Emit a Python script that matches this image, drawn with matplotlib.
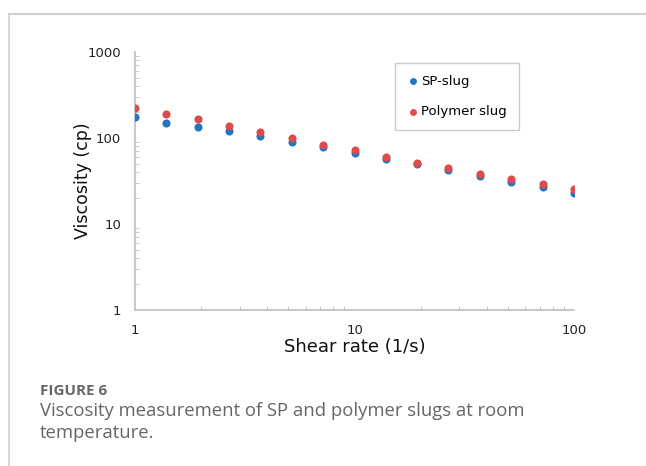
import matplotlib.pyplot as plt
from matplotlib.ticker import LogLocator, NullFormatter, FixedLocator, FixedFormatter
from matplotlib.lines import Line2D

# shear rate (1/s)
shear_rate = [1, 1.39, 1.93, 2.68, 3.73, 5.18, 7.2, 10, 13.9, 19.3, 26.8, 37.3, 51.8, 72, 100]
# viscosity (cp)
sp_slug = [174, 150, 134, 120, 105, 90, 78.5, 67, 57, 50, 42, 35.7, 31.2, 26.8, 23.2]
polymer_slug = [222, 190, 165, 138, 116, 99, 84, 72, 60.5, 51.5, 44.3, 38.4, 33, 28.8, 25.2]

x_ticks = [1, 10, 100]
y_ticks = [1, 10, 100, 1000]

blue = "#1f77c4"
red = "#e04a4a"
grey = "#bfbfbf"

fig = plt.figure(figsize=(6.46, 4.66), dpi=100)

# page frame lines (left and top)
fig.add_artist(Line2D([9 / 646, 9 / 646], [0, 1 - 14 / 466], color="#d0d0d0", lw=1.2))
fig.add_artist(Line2D([9 / 646, 1], [1 - 14 / 466, 1 - 14 / 466], color="#d0d0d0", lw=1.5))

ax = fig.add_axes([135 / 646, 1 - 310 / 466, (574 - 135) / 646, (310 - 52) / 466])
ax.scatter(shear_rate, sp_slug, s=34, color=blue, label="SP-slug", zorder=3, linewidths=0)
ax.scatter(shear_rate, polymer_slug, s=34, color=red, label="Polymer slug", zorder=3, linewidths=0)

ax.set_xscale("log")
ax.set_yscale("log")
ax.set_xlim(1, 100)
ax.set_ylim(1, 1000)

for side in ["top", "right"]:
    ax.spines[side].set_visible(False)
for side in ["left", "bottom"]:
    ax.spines[side].set_color(grey)
    ax.spines[side].set_linewidth(1.2)

ax.xaxis.set_major_locator(FixedLocator(x_ticks))
ax.xaxis.set_major_formatter(FixedFormatter([str(v) for v in x_ticks]))
ax.yaxis.set_major_locator(FixedLocator(y_ticks))
ax.yaxis.set_major_formatter(FixedFormatter([str(v) for v in y_ticks]))
ax.xaxis.set_minor_locator(LogLocator(base=10, subs=range(2, 10)))
ax.yaxis.set_minor_locator(LogLocator(base=10, subs=range(2, 10)))
ax.xaxis.set_minor_formatter(NullFormatter())
ax.yaxis.set_minor_formatter(NullFormatter())

ax.tick_params(which="both", direction="in", color=grey, labelsize=9.5, labelcolor="#222222")
ax.tick_params(which="major", length=0)
ax.tick_params(which="minor", length=3)
ax.tick_params(axis="x", which="major", pad=10)
ax.tick_params(axis="y", which="major", pad=10)

ax.set_xlabel("Shear rate (1/s)", fontsize=13, labelpad=1, color="#111111")
ax.set_ylabel("Viscosity (cp)", fontsize=12.5, labelpad=-3, color="#111111")

leg = ax.legend(loc="upper left", bbox_to_anchor=((395 - 135) / 439, 1 - (63 - 52) / 258),
                borderaxespad=0, frameon=True, fancybox=False, fontsize=9.5,
                handletextpad=0.1, labelspacing=1.3, borderpad=0.9, markerscale=0.85,
                handlelength=1.0)
leg.get_frame().set_edgecolor(grey)
leg.get_frame().set_linewidth(1.0)

fig.text(40 / 646, 1 - 391 / 466, "FIGURE 6", fontsize=11, fontweight="bold",
         color="#666666", family="Open Sans", va="center")
fig.text(40 / 646, 1 - 411 / 466, "Viscosity measurement of SP and polymer slugs at room",
         fontsize=13.3, color="#666666", family="Open Sans", va="center")
fig.text(40 / 646, 1 - 433 / 466, "temperature.",
         fontsize=13.3, color="#666666", family="Open Sans", va="center")

fig.savefig("out.png", dpi=100)
